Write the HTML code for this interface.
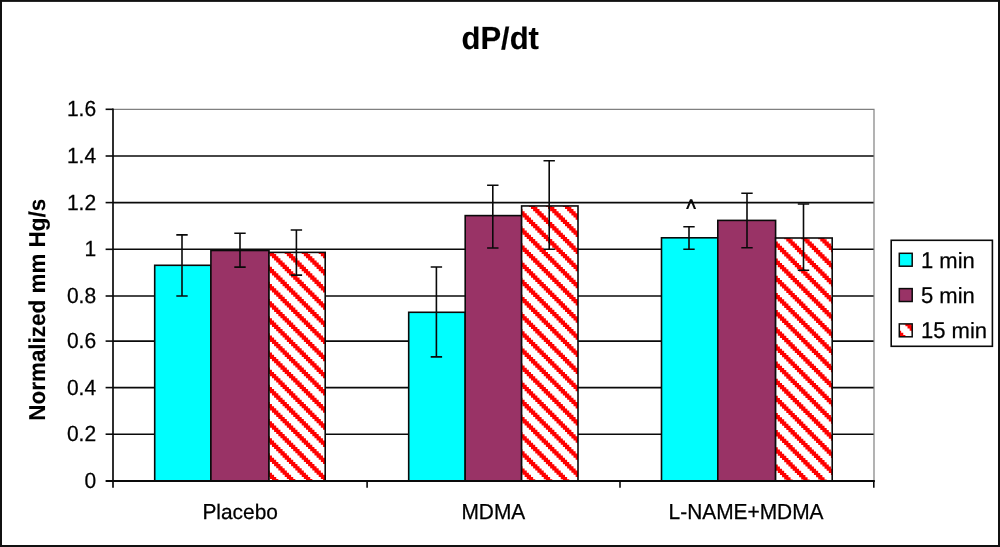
<!DOCTYPE html>
<html><head><meta charset="utf-8"><title>dP/dt</title>
<style>html,body{margin:0;padding:0;background:#fff}svg{display:block;will-change:transform}</style></head>
<body><svg width="1000" height="547" viewBox="0 0 1000 547">
<defs><path id="stripe" d="M0.00 0.00 L0.00 2.14 L2.12 2.14 L2.12 4.29 L4.25 4.29 L4.25 6.43 L6.38 6.43 L6.38 8.57 L8.50 8.57 L8.50 10.72 L10.62 10.72 L10.62 12.86 L12.75 12.86 L12.75 15.01 L14.88 15.01 L14.88 17.15 L17.00 17.15 L17.00 19.29 L19.12 19.29 L19.12 21.44 L21.25 21.44 L21.25 23.58 L23.38 23.58 L23.38 25.72 L25.50 25.72 L25.50 27.87 L27.62 27.87 L27.62 30.01 L29.75 30.01 L29.75 32.16 L31.88 32.16 L31.88 34.30 L34.00 34.30 L34.00 36.44 L36.12 36.44 L36.12 38.59 L38.25 38.59 L38.25 40.73 L40.38 40.73 L40.38 42.88 L42.50 42.88 L42.50 45.02 L44.62 45.02 L44.62 47.16 L46.75 47.16 L46.75 49.31 L48.88 49.31 L48.88 51.45 L51.00 51.45 L51.00 53.59 L53.12 53.59 L53.12 55.74 L55.25 55.74 L55.25 57.88 L57.38 57.88 L57.38 60.02 L59.50 60.02 L59.50 62.17 L61.62 62.17 L61.62 64.31 L63.75 64.31 L63.75 66.46 L65.88 66.46 L65.88 68.60 L68.00 68.60 L68.00 70.74 L70.12 70.74 L70.12 72.89 L72.25 72.89 L72.25 75.03 L74.38 75.03 L74.38 77.17 L76.50 77.17 L76.50 79.32 L78.62 79.32 L78.62 81.46 L80.75 81.46 L80.75 83.61 L82.88 83.61 L82.88 85.75 L85.00 85.75 L85.00 87.89 L87.12 87.89 L87.12 90.04 L89.25 90.04 L89.25 92.18 L91.38 92.18 L91.38 94.32 L93.50 94.32 L93.50 96.47 L95.62 96.47 L95.62 98.61 L97.75 98.61 L97.75 100.76 L99.88 100.76 L99.88 102.90 L102.00 102.90 L102.00 105.04 L104.12 105.04 L104.12 107.19 L106.25 107.19 L106.25 109.33 L108.38 109.33 L108.38 111.47 L110.50 111.47 L110.50 113.62 L112.62 113.62 L112.62 115.76 L114.75 115.76 L114.75 117.91 L116.88 117.91 L116.88 120.05 L119.00 120.05 L119.00 122.19 L121.12 122.19 L121.12 124.34 L123.25 124.34 L123.25 126.48 L125.38 126.48 L125.38 128.62 L127.50 128.62 L127.50 130.77 L129.62 130.77 L129.62 132.91 L131.75 132.91 L131.75 135.06 L133.88 135.06 L133.88 137.20 L136.00 137.20 L136.00 139.34 L138.12 139.34 L138.12 141.49 L140.25 141.49 L140.25 143.63 L142.38 143.63 L142.38 145.77 L144.50 145.77 L144.50 147.92 L146.62 147.92 L146.62 150.06 L148.75 150.06 L148.75 152.21 L150.88 152.21 L150.88 154.35 L153.00 154.35 L153.00 156.49 L155.12 156.49 L155.12 158.64 L157.25 158.64 L157.25 160.78 L159.38 160.78 L159.38 162.92 L161.50 162.92 L161.50 165.07 L163.62 165.07 L163.62 167.21 L165.75 167.21 L165.75 169.36 L167.88 169.36 L167.88 171.50 L170.00 171.50 L170.00 173.64 L172.12 173.64 L172.12 175.79 L174.25 175.79 L174.25 177.93 L176.38 177.93 L176.38 180.07 L178.50 180.07 L178.50 182.22 L180.62 182.22 L180.62 184.36 L182.75 184.36 L182.75 186.51 L184.88 186.51 L184.88 188.65 L187.00 188.65 L187.00 190.79 L189.12 190.79 L189.12 192.94 L191.25 192.94 L191.25 195.08 L193.38 195.08 L193.38 197.22 L195.50 197.22 L195.50 199.37 L197.62 199.37 L197.62 201.51 L199.75 201.51 L199.75 203.66 L201.88 203.66 L201.88 205.80 L204.00 205.80 L204.00 207.94 L206.12 207.94 L206.12 210.09 L208.25 210.09 L208.25 212.23 L210.38 212.23 L210.38 214.37 L212.50 214.37 L212.50 216.52 L214.62 216.52 L214.62 218.66 L216.75 218.66 L216.75 220.81 L218.88 220.81 L218.88 222.95 L221.00 222.95 L221.00 225.09 L223.12 225.09 L223.12 227.24 L225.25 227.24 L225.25 229.38 L227.38 229.38 L227.38 231.52 L229.50 231.52 L229.50 233.67 L231.62 233.67 L231.62 235.81 L233.75 235.81 L233.75 237.96 L235.88 237.96 L235.88 240.10 L238.00 240.10 L238.00 242.24 L240.12 242.24 L240.12 244.39 L242.25 244.39 L242.25 246.53 L244.38 246.53 L244.38 248.67 L246.50 248.67 L246.50 250.82 L248.62 250.82 L248.62 252.96 L250.75 252.96 L250.75 255.11 L252.88 255.11 L252.88 257.25 L255.00 257.25 L255.00 259.39 L257.12 259.39 L257.12 261.54 L259.25 261.54 L259.25 263.68 L261.38 263.68 L261.38 265.82 L263.50 265.82 L263.50 267.97 L265.62 267.97 L265.62 270.11 L267.75 270.11 L267.75 272.26 L269.88 272.26 L269.88 274.40 L272.00 274.40 L272.00 276.54 L274.12 276.54 L274.12 278.69 L276.25 278.69 L276.25 280.83 L278.38 280.83 L278.38 282.97 L280.50 282.97 L280.50 285.12 L282.62 285.12 L282.62 287.26 L284.75 287.26 L284.75 289.41 L286.88 289.41 L286.88 291.55 L289.00 291.55 L289.00 293.69 L291.12 293.69 L291.12 295.84 L293.25 295.84 L293.25 297.98 L295.38 297.98 L295.38 300.12 L297.50 300.12 L297.50 302.27 L299.62 302.27 L299.62 304.41 L301.75 304.41 L301.75 306.56 L303.88 306.56 L303.88 308.70 L306.00 308.70 L306.00 310.84 L308.12 310.84 L308.12 312.99 L310.25 312.99 L310.25 315.13 L312.38 315.13 L312.38 317.27 L314.50 317.27 L314.50 319.42 L316.62 319.42 L316.62 321.56 L318.75 321.56 L318.75 323.71 L320.88 323.71 L320.88 325.85 L323.00 325.85 L323.00 327.99 L325.12 327.99 L325.12 330.14 L327.25 330.14 L327.25 332.28 L329.38 332.28 L329.38 334.42 L331.50 334.42 L331.50 336.57 L333.62 336.57 L333.62 338.71 L335.75 338.71 L335.75 340.86 L337.88 340.86 L337.88 343.00 L340.00 343.00 L340.00 345.14 L342.12 345.14 L342.12 347.29 L344.25 347.29 L344.25 349.43 L346.38 349.43 L346.38 351.57 L348.50 351.57 L348.50 353.72 L350.62 353.72 L350.62 355.86 L352.75 355.86 L352.75 358.01 L354.88 358.01 L354.88 360.15 L357.00 360.15 L357.00 362.29 L359.12 362.29 L359.12 364.44 L361.25 364.44 L361.25 366.58 L363.38 366.58 L363.38 368.72 L365.50 368.72 L365.50 370.87 L367.62 370.87 L367.62 373.01 L369.75 373.01 L369.75 375.16 L371.88 375.16 L371.88 377.30 L374.00 377.30 L374.00 379.44 L376.12 379.44 L376.12 381.59 L378.25 381.59 L378.25 383.73 L380.38 383.73 L380.38 385.87 L382.50 385.87 L382.50 388.02 L384.62 388.02 L384.62 390.16 L386.75 390.16 L386.75 392.31 L388.88 392.31 L388.88 394.45 L391.00 394.45 L391.00 396.59 L397.38 396.59 L397.38 394.45 L395.25 394.45 L395.25 392.31 L393.12 392.31 L393.12 390.16 L391.00 390.16 L391.00 388.02 L388.88 388.02 L388.88 385.87 L386.75 385.87 L386.75 383.73 L384.62 383.73 L384.62 381.59 L382.50 381.59 L382.50 379.44 L380.38 379.44 L380.38 377.30 L378.25 377.30 L378.25 375.16 L376.12 375.16 L376.12 373.01 L374.00 373.01 L374.00 370.87 L371.88 370.87 L371.88 368.72 L369.75 368.72 L369.75 366.58 L367.62 366.58 L367.62 364.44 L365.50 364.44 L365.50 362.29 L363.38 362.29 L363.38 360.15 L361.25 360.15 L361.25 358.01 L359.12 358.01 L359.12 355.86 L357.00 355.86 L357.00 353.72 L354.88 353.72 L354.88 351.57 L352.75 351.57 L352.75 349.43 L350.62 349.43 L350.62 347.29 L348.50 347.29 L348.50 345.14 L346.38 345.14 L346.38 343.00 L344.25 343.00 L344.25 340.86 L342.12 340.86 L342.12 338.71 L340.00 338.71 L340.00 336.57 L337.88 336.57 L337.88 334.42 L335.75 334.42 L335.75 332.28 L333.62 332.28 L333.62 330.14 L331.50 330.14 L331.50 327.99 L329.38 327.99 L329.38 325.85 L327.25 325.85 L327.25 323.71 L325.12 323.71 L325.12 321.56 L323.00 321.56 L323.00 319.42 L320.88 319.42 L320.88 317.27 L318.75 317.27 L318.75 315.13 L316.62 315.13 L316.62 312.99 L314.50 312.99 L314.50 310.84 L312.38 310.84 L312.38 308.70 L310.25 308.70 L310.25 306.56 L308.12 306.56 L308.12 304.41 L306.00 304.41 L306.00 302.27 L303.88 302.27 L303.88 300.12 L301.75 300.12 L301.75 297.98 L299.62 297.98 L299.62 295.84 L297.50 295.84 L297.50 293.69 L295.38 293.69 L295.38 291.55 L293.25 291.55 L293.25 289.41 L291.12 289.41 L291.12 287.26 L289.00 287.26 L289.00 285.12 L286.88 285.12 L286.88 282.97 L284.75 282.97 L284.75 280.83 L282.62 280.83 L282.62 278.69 L280.50 278.69 L280.50 276.54 L278.38 276.54 L278.38 274.40 L276.25 274.40 L276.25 272.26 L274.12 272.26 L274.12 270.11 L272.00 270.11 L272.00 267.97 L269.88 267.97 L269.88 265.82 L267.75 265.82 L267.75 263.68 L265.62 263.68 L265.62 261.54 L263.50 261.54 L263.50 259.39 L261.38 259.39 L261.38 257.25 L259.25 257.25 L259.25 255.11 L257.12 255.11 L257.12 252.96 L255.00 252.96 L255.00 250.82 L252.88 250.82 L252.88 248.67 L250.75 248.67 L250.75 246.53 L248.62 246.53 L248.62 244.39 L246.50 244.39 L246.50 242.24 L244.38 242.24 L244.38 240.10 L242.25 240.10 L242.25 237.96 L240.12 237.96 L240.12 235.81 L238.00 235.81 L238.00 233.67 L235.88 233.67 L235.88 231.52 L233.75 231.52 L233.75 229.38 L231.62 229.38 L231.62 227.24 L229.50 227.24 L229.50 225.09 L227.38 225.09 L227.38 222.95 L225.25 222.95 L225.25 220.81 L223.12 220.81 L223.12 218.66 L221.00 218.66 L221.00 216.52 L218.88 216.52 L218.88 214.37 L216.75 214.37 L216.75 212.23 L214.62 212.23 L214.62 210.09 L212.50 210.09 L212.50 207.94 L210.38 207.94 L210.38 205.80 L208.25 205.80 L208.25 203.66 L206.12 203.66 L206.12 201.51 L204.00 201.51 L204.00 199.37 L201.88 199.37 L201.88 197.22 L199.75 197.22 L199.75 195.08 L197.62 195.08 L197.62 192.94 L195.50 192.94 L195.50 190.79 L193.38 190.79 L193.38 188.65 L191.25 188.65 L191.25 186.51 L189.12 186.51 L189.12 184.36 L187.00 184.36 L187.00 182.22 L184.88 182.22 L184.88 180.07 L182.75 180.07 L182.75 177.93 L180.62 177.93 L180.62 175.79 L178.50 175.79 L178.50 173.64 L176.38 173.64 L176.38 171.50 L174.25 171.50 L174.25 169.36 L172.12 169.36 L172.12 167.21 L170.00 167.21 L170.00 165.07 L167.88 165.07 L167.88 162.92 L165.75 162.92 L165.75 160.78 L163.62 160.78 L163.62 158.64 L161.50 158.64 L161.50 156.49 L159.38 156.49 L159.38 154.35 L157.25 154.35 L157.25 152.21 L155.12 152.21 L155.12 150.06 L153.00 150.06 L153.00 147.92 L150.88 147.92 L150.88 145.77 L148.75 145.77 L148.75 143.63 L146.62 143.63 L146.62 141.49 L144.50 141.49 L144.50 139.34 L142.38 139.34 L142.38 137.20 L140.25 137.20 L140.25 135.06 L138.12 135.06 L138.12 132.91 L136.00 132.91 L136.00 130.77 L133.88 130.77 L133.88 128.62 L131.75 128.62 L131.75 126.48 L129.62 126.48 L129.62 124.34 L127.50 124.34 L127.50 122.19 L125.38 122.19 L125.38 120.05 L123.25 120.05 L123.25 117.91 L121.12 117.91 L121.12 115.76 L119.00 115.76 L119.00 113.62 L116.88 113.62 L116.88 111.47 L114.75 111.47 L114.75 109.33 L112.62 109.33 L112.62 107.19 L110.50 107.19 L110.50 105.04 L108.38 105.04 L108.38 102.90 L106.25 102.90 L106.25 100.76 L104.12 100.76 L104.12 98.61 L102.00 98.61 L102.00 96.47 L99.88 96.47 L99.88 94.32 L97.75 94.32 L97.75 92.18 L95.62 92.18 L95.62 90.04 L93.50 90.04 L93.50 87.89 L91.38 87.89 L91.38 85.75 L89.25 85.75 L89.25 83.61 L87.12 83.61 L87.12 81.46 L85.00 81.46 L85.00 79.32 L82.88 79.32 L82.88 77.17 L80.75 77.17 L80.75 75.03 L78.62 75.03 L78.62 72.89 L76.50 72.89 L76.50 70.74 L74.38 70.74 L74.38 68.60 L72.25 68.60 L72.25 66.46 L70.12 66.46 L70.12 64.31 L68.00 64.31 L68.00 62.17 L65.88 62.17 L65.88 60.02 L63.75 60.02 L63.75 57.88 L61.62 57.88 L61.62 55.74 L59.50 55.74 L59.50 53.59 L57.38 53.59 L57.38 51.45 L55.25 51.45 L55.25 49.31 L53.12 49.31 L53.12 47.16 L51.00 47.16 L51.00 45.02 L48.88 45.02 L48.88 42.88 L46.75 42.88 L46.75 40.73 L44.62 40.73 L44.62 38.59 L42.50 38.59 L42.50 36.44 L40.38 36.44 L40.38 34.30 L38.25 34.30 L38.25 32.16 L36.12 32.16 L36.12 30.01 L34.00 30.01 L34.00 27.87 L31.88 27.87 L31.88 25.72 L29.75 25.72 L29.75 23.58 L27.62 23.58 L27.62 21.44 L25.50 21.44 L25.50 19.29 L23.38 19.29 L23.38 17.15 L21.25 17.15 L21.25 15.01 L19.12 15.01 L19.12 12.86 L17.00 12.86 L17.00 10.72 L14.88 10.72 L14.88 8.57 L12.75 8.57 L12.75 6.43 L10.62 6.43 L10.62 4.29 L8.50 4.29 L8.50 2.14 L6.38 2.14 L6.38 0.00Z"/></defs>
<rect x="0" y="0" width="1000" height="547" fill="#fff"/>
<line x1="113.0" y1="434.20" x2="874.0" y2="434.20" stroke="#0a0a0a" stroke-width="1.6"/>
<line x1="113.0" y1="387.60" x2="874.0" y2="387.60" stroke="#0a0a0a" stroke-width="1.6"/>
<line x1="113.0" y1="341.10" x2="874.0" y2="341.10" stroke="#0a0a0a" stroke-width="1.6"/>
<line x1="113.0" y1="296.00" x2="874.0" y2="296.00" stroke="#0a0a0a" stroke-width="1.6"/>
<line x1="113.0" y1="249.30" x2="874.0" y2="249.30" stroke="#0a0a0a" stroke-width="1.6"/>
<line x1="113.0" y1="202.60" x2="874.0" y2="202.60" stroke="#0a0a0a" stroke-width="1.6"/>
<line x1="113.0" y1="156.00" x2="874.0" y2="156.00" stroke="#0a0a0a" stroke-width="1.6"/>
<path d="M113.0 109.40 H874.0 V481.0" fill="none" stroke="#808080" stroke-width="1.2"/>
<rect x="154.70" y="265.30" width="56.20" height="215.70" fill="#00ffff" stroke="#0a0a0a" stroke-width="1.6"/>
<rect x="210.90" y="250.50" width="58.10" height="230.50" fill="#993366" stroke="#0a0a0a" stroke-width="1.6"/>
<clipPath id="c0"><rect x="269.00" y="252.40" width="56.20" height="228.60"/></clipPath><rect x="269.00" y="252.40" width="56.20" height="228.60" fill="#fff"/><g clip-path="url(#c0)" fill="#ff0000"><use href="#stripe" x="-70.16" y="236.85"/><use href="#stripe" x="-53.16" y="236.85"/><use href="#stripe" x="-36.16" y="236.85"/><use href="#stripe" x="-19.16" y="236.85"/><use href="#stripe" x="-2.16" y="236.85"/><use href="#stripe" x="14.84" y="236.85"/><use href="#stripe" x="31.84" y="236.85"/><use href="#stripe" x="48.84" y="236.85"/><use href="#stripe" x="65.84" y="236.85"/><use href="#stripe" x="82.84" y="236.85"/><use href="#stripe" x="99.84" y="236.85"/><use href="#stripe" x="116.84" y="236.85"/><use href="#stripe" x="133.84" y="236.85"/><use href="#stripe" x="150.84" y="236.85"/><use href="#stripe" x="167.84" y="236.85"/><use href="#stripe" x="184.84" y="236.85"/><use href="#stripe" x="201.84" y="236.85"/><use href="#stripe" x="218.84" y="236.85"/><use href="#stripe" x="235.84" y="236.85"/><use href="#stripe" x="252.84" y="236.85"/><use href="#stripe" x="269.84" y="236.85"/><use href="#stripe" x="286.84" y="236.85"/><use href="#stripe" x="303.84" y="236.85"/><use href="#stripe" x="320.84" y="236.85"/><use href="#stripe" x="337.84" y="236.85"/><use href="#stripe" x="354.84" y="236.85"/><use href="#stripe" x="371.84" y="236.85"/></g>
<rect x="269.00" y="252.40" width="56.20" height="228.60" fill="none" stroke="#0a0a0a" stroke-width="1.6"/>
<rect x="408.70" y="312.30" width="56.50" height="168.70" fill="#00ffff" stroke="#0a0a0a" stroke-width="1.6"/>
<rect x="465.20" y="215.60" width="56.40" height="265.40" fill="#993366" stroke="#0a0a0a" stroke-width="1.6"/>
<clipPath id="c1"><rect x="521.60" y="205.95" width="56.40" height="275.05"/></clipPath><rect x="521.60" y="205.95" width="56.40" height="275.05" fill="#fff"/><g clip-path="url(#c1)" fill="#ff0000"><use href="#stripe" x="140.00" y="189.75"/><use href="#stripe" x="157.00" y="189.75"/><use href="#stripe" x="174.00" y="189.75"/><use href="#stripe" x="191.00" y="189.75"/><use href="#stripe" x="208.00" y="189.75"/><use href="#stripe" x="225.00" y="189.75"/><use href="#stripe" x="242.00" y="189.75"/><use href="#stripe" x="259.00" y="189.75"/><use href="#stripe" x="276.00" y="189.75"/><use href="#stripe" x="293.00" y="189.75"/><use href="#stripe" x="310.00" y="189.75"/><use href="#stripe" x="327.00" y="189.75"/><use href="#stripe" x="344.00" y="189.75"/><use href="#stripe" x="361.00" y="189.75"/><use href="#stripe" x="378.00" y="189.75"/><use href="#stripe" x="395.00" y="189.75"/><use href="#stripe" x="412.00" y="189.75"/><use href="#stripe" x="429.00" y="189.75"/><use href="#stripe" x="446.00" y="189.75"/><use href="#stripe" x="463.00" y="189.75"/><use href="#stripe" x="480.00" y="189.75"/><use href="#stripe" x="497.00" y="189.75"/><use href="#stripe" x="514.00" y="189.75"/><use href="#stripe" x="531.00" y="189.75"/><use href="#stripe" x="548.00" y="189.75"/><use href="#stripe" x="565.00" y="189.75"/><use href="#stripe" x="582.00" y="189.75"/><use href="#stripe" x="599.00" y="189.75"/><use href="#stripe" x="616.00" y="189.75"/><use href="#stripe" x="633.00" y="189.75"/></g>
<rect x="521.60" y="205.95" width="56.40" height="275.05" fill="none" stroke="#0a0a0a" stroke-width="1.6"/>
<rect x="661.50" y="237.80" width="56.30" height="243.20" fill="#00ffff" stroke="#0a0a0a" stroke-width="1.6"/>
<rect x="717.80" y="220.40" width="57.80" height="260.60" fill="#993366" stroke="#0a0a0a" stroke-width="1.6"/>
<clipPath id="c2"><rect x="775.60" y="238.00" width="56.60" height="243.00"/></clipPath><rect x="775.60" y="238.00" width="56.60" height="243.00" fill="#fff"/><g clip-path="url(#c2)" fill="#ff0000"><use href="#stripe" x="429.30" y="222.15"/><use href="#stripe" x="446.30" y="222.15"/><use href="#stripe" x="463.30" y="222.15"/><use href="#stripe" x="480.30" y="222.15"/><use href="#stripe" x="497.30" y="222.15"/><use href="#stripe" x="514.30" y="222.15"/><use href="#stripe" x="531.30" y="222.15"/><use href="#stripe" x="548.30" y="222.15"/><use href="#stripe" x="565.30" y="222.15"/><use href="#stripe" x="582.30" y="222.15"/><use href="#stripe" x="599.30" y="222.15"/><use href="#stripe" x="616.30" y="222.15"/><use href="#stripe" x="633.30" y="222.15"/><use href="#stripe" x="650.30" y="222.15"/><use href="#stripe" x="667.30" y="222.15"/><use href="#stripe" x="684.30" y="222.15"/><use href="#stripe" x="701.30" y="222.15"/><use href="#stripe" x="718.30" y="222.15"/><use href="#stripe" x="735.30" y="222.15"/><use href="#stripe" x="752.30" y="222.15"/><use href="#stripe" x="769.30" y="222.15"/><use href="#stripe" x="786.30" y="222.15"/><use href="#stripe" x="803.30" y="222.15"/><use href="#stripe" x="820.30" y="222.15"/><use href="#stripe" x="837.30" y="222.15"/><use href="#stripe" x="854.30" y="222.15"/><use href="#stripe" x="871.30" y="222.15"/><use href="#stripe" x="888.30" y="222.15"/></g>
<rect x="775.60" y="238.00" width="56.60" height="243.00" fill="none" stroke="#0a0a0a" stroke-width="1.6"/>
<line x1="113.0" y1="108.45" x2="113.0" y2="487.8" stroke="#0a0a0a" stroke-width="1.7000000000000002"/>
<line x1="105.6" y1="481.0" x2="874.8" y2="481.0" stroke="#0a0a0a" stroke-width="1.8"/>
<line x1="105.6" y1="434.20" x2="113.0" y2="434.20" stroke="#0a0a0a" stroke-width="1.6"/>
<line x1="105.6" y1="387.60" x2="113.0" y2="387.60" stroke="#0a0a0a" stroke-width="1.6"/>
<line x1="105.6" y1="341.10" x2="113.0" y2="341.10" stroke="#0a0a0a" stroke-width="1.6"/>
<line x1="105.6" y1="296.00" x2="113.0" y2="296.00" stroke="#0a0a0a" stroke-width="1.6"/>
<line x1="105.6" y1="249.30" x2="113.0" y2="249.30" stroke="#0a0a0a" stroke-width="1.6"/>
<line x1="105.6" y1="202.60" x2="113.0" y2="202.60" stroke="#0a0a0a" stroke-width="1.6"/>
<line x1="105.6" y1="156.00" x2="113.0" y2="156.00" stroke="#0a0a0a" stroke-width="1.6"/>
<line x1="105.6" y1="109.30" x2="113.0" y2="109.30" stroke="#0a0a0a" stroke-width="1.6"/>
<line x1="367.10" y1="481.0" x2="367.10" y2="487.8" stroke="#0a0a0a" stroke-width="1.6"/>
<line x1="620.00" y1="481.0" x2="620.00" y2="487.8" stroke="#0a0a0a" stroke-width="1.6"/>
<line x1="873.80" y1="481.0" x2="873.80" y2="487.8" stroke="#0a0a0a" stroke-width="1.6"/>
<path d="M182.00 234.90 V296.00 M176.30 234.90 h11.4 M176.30 296.00 h11.4" fill="none" stroke="#0a0a0a" stroke-width="1.6"/>
<path d="M240.00 233.30 V267.10 M234.30 233.30 h11.4 M234.30 267.10 h11.4" fill="none" stroke="#0a0a0a" stroke-width="1.6"/>
<path d="M296.40 230.00 V275.10 M290.70 230.00 h11.4 M290.70 275.10 h11.4" fill="none" stroke="#0a0a0a" stroke-width="1.6"/>
<path d="M436.40 267.00 V356.90 M430.70 267.00 h11.4 M430.70 356.90 h11.4" fill="none" stroke="#0a0a0a" stroke-width="1.6"/>
<path d="M492.80 185.20 V248.00 M487.10 185.20 h11.4 M487.10 248.00 h11.4" fill="none" stroke="#0a0a0a" stroke-width="1.6"/>
<path d="M549.20 160.70 V249.20 M543.50 160.70 h11.4 M543.50 249.20 h11.4" fill="none" stroke="#0a0a0a" stroke-width="1.6"/>
<path d="M689.00 226.80 V249.20 M683.30 226.80 h11.4 M683.30 249.20 h11.4" fill="none" stroke="#0a0a0a" stroke-width="1.6"/>
<path d="M747.00 193.20 V247.80 M741.30 193.20 h11.4 M741.30 247.80 h11.4" fill="none" stroke="#0a0a0a" stroke-width="1.6"/>
<path d="M803.50 204.00 V270.30 M797.80 204.00 h11.4 M797.80 270.30 h11.4" fill="none" stroke="#0a0a0a" stroke-width="1.6"/>
<text transform="translate(96.1,488.00) scale(1,1.04)" text-anchor="end" style="font-family:'Liberation Sans',sans-serif;stroke:#000;stroke-width:0.25px;text-rendering:geometricPrecision;font-size:21px">0</text>
<text transform="translate(96.1,441.20) scale(1,1.04)" text-anchor="end" style="font-family:'Liberation Sans',sans-serif;stroke:#000;stroke-width:0.25px;text-rendering:geometricPrecision;font-size:21px">0.2</text>
<text transform="translate(96.1,394.60) scale(1,1.04)" text-anchor="end" style="font-family:'Liberation Sans',sans-serif;stroke:#000;stroke-width:0.25px;text-rendering:geometricPrecision;font-size:21px">0.4</text>
<text transform="translate(96.1,348.10) scale(1,1.04)" text-anchor="end" style="font-family:'Liberation Sans',sans-serif;stroke:#000;stroke-width:0.25px;text-rendering:geometricPrecision;font-size:21px">0.6</text>
<text transform="translate(96.1,303.00) scale(1,1.04)" text-anchor="end" style="font-family:'Liberation Sans',sans-serif;stroke:#000;stroke-width:0.25px;text-rendering:geometricPrecision;font-size:21px">0.8</text>
<text transform="translate(96.1,256.30) scale(1,1.04)" text-anchor="end" style="font-family:'Liberation Sans',sans-serif;stroke:#000;stroke-width:0.25px;text-rendering:geometricPrecision;font-size:21px">1</text>
<text transform="translate(96.1,209.60) scale(1,1.04)" text-anchor="end" style="font-family:'Liberation Sans',sans-serif;stroke:#000;stroke-width:0.25px;text-rendering:geometricPrecision;font-size:21px">1.2</text>
<text transform="translate(96.1,163.00) scale(1,1.04)" text-anchor="end" style="font-family:'Liberation Sans',sans-serif;stroke:#000;stroke-width:0.25px;text-rendering:geometricPrecision;font-size:21px">1.4</text>
<text transform="translate(96.1,116.30) scale(1,1.04)" text-anchor="end" style="font-family:'Liberation Sans',sans-serif;stroke:#000;stroke-width:0.25px;text-rendering:geometricPrecision;font-size:21px">1.6</text>
<text transform="translate(202.39,518.6) scale(1,1.04)" style="font-family:'Liberation Sans',sans-serif;stroke:#000;stroke-width:0.25px;text-rendering:geometricPrecision;font-size:20.9px">P</text>
<text x="216.33" y="518.6" style="font-family:'Liberation Sans',sans-serif;stroke:#000;stroke-width:0.25px;text-rendering:geometricPrecision;font-size:20.9px">lacebo</text>
<text transform="translate(493.30,518.6) scale(1,1.04)" text-anchor="middle" style="font-family:'Liberation Sans',sans-serif;stroke:#000;stroke-width:0.25px;text-rendering:geometricPrecision;font-size:20.9px">MDMA</text>
<text transform="translate(746.05,518.6) scale(1,1.04)" text-anchor="middle" style="font-family:'Liberation Sans',sans-serif;stroke:#000;stroke-width:0.25px;text-rendering:geometricPrecision;font-size:20.9px">L-NAME+MDMA</text>
<clipPath id="ct"><rect x="440" y="26.5" width="120" height="40"/></clipPath><g clip-path="url(#ct)"><text transform="translate(500.2,48.9) scale(1,1.035)" text-anchor="middle" style="font-family:'Liberation Sans',sans-serif;stroke:#000;stroke-width:0.25px;text-rendering:geometricPrecision;font-size:31px;font-weight:bold;stroke-width:0.15px">dP/dt</text></g>
<text transform="translate(44.5,420.7) rotate(-90) scale(1,1.025)" style="font-family:'Liberation Sans',sans-serif;stroke:#000;stroke-width:0.25px;text-rendering:geometricPrecision;font-size:22.45px;font-weight:bold;stroke-width:0.1px">Normalized mm Hg/s</text>
<path d="M686.05 209.1 L690.0 199.2 L692.2 199.2 L696.1 209.1 L693.9 209.1 L691.08 201.9 L688.25 209.1 Z" fill="#0a0a0a"/>
<rect x="891.2" y="240.3" width="101.2" height="106" fill="#fff" stroke="#0a0a0a" stroke-width="1.6"/>
<clipPath id="cl"><rect x="899.30" y="323.90" width="12.90" height="12.90"/></clipPath><rect x="899.30" y="323.90" width="12.90" height="12.90" fill="#fff"/><g clip-path="url(#cl)" fill="#ff0000"><use href="#stripe" x="820.40" y="307.05"/><use href="#stripe" x="837.40" y="307.05"/><use href="#stripe" x="854.40" y="307.05"/><use href="#stripe" x="871.40" y="307.05"/><use href="#stripe" x="888.40" y="307.05"/><use href="#stripe" x="905.40" y="307.05"/><use href="#stripe" x="922.40" y="307.05"/><use href="#stripe" x="939.40" y="307.05"/><use href="#stripe" x="956.40" y="307.05"/></g>
<rect x="899.3" y="253.30" width="12.9" height="12.9" fill="#00ffff" stroke="#0a0a0a" stroke-width="1.5"/>
<text transform="translate(921,267.60) scale(1,1.04)" style="font-family:'Liberation Sans',sans-serif;stroke:#000;stroke-width:0.25px;text-rendering:geometricPrecision;font-size:22px">1</text>
<text x="939.35" y="267.60" style="font-family:'Liberation Sans',sans-serif;stroke:#000;stroke-width:0.25px;text-rendering:geometricPrecision;font-size:22px">min</text>
<rect x="899.3" y="288.60" width="12.9" height="12.9" fill="#993366" stroke="#0a0a0a" stroke-width="1.5"/>
<text transform="translate(921,302.90) scale(1,1.04)" style="font-family:'Liberation Sans',sans-serif;stroke:#000;stroke-width:0.25px;text-rendering:geometricPrecision;font-size:22px">5</text>
<text x="939.35" y="302.90" style="font-family:'Liberation Sans',sans-serif;stroke:#000;stroke-width:0.25px;text-rendering:geometricPrecision;font-size:22px">min</text>
<rect x="899.3" y="323.90" width="12.9" height="12.9" fill="none" stroke="#0a0a0a" stroke-width="1.5"/>
<text transform="translate(921,338.20) scale(1,1.04)" style="font-family:'Liberation Sans',sans-serif;stroke:#000;stroke-width:0.25px;text-rendering:geometricPrecision;font-size:22px">15</text>
<text x="951.58" y="338.20" style="font-family:'Liberation Sans',sans-serif;stroke:#000;stroke-width:0.25px;text-rendering:geometricPrecision;font-size:22px">min</text>
<rect x="1" y="0.9" width="998" height="545.1" fill="none" stroke="#111" stroke-width="2"/>
</svg></body></html>
